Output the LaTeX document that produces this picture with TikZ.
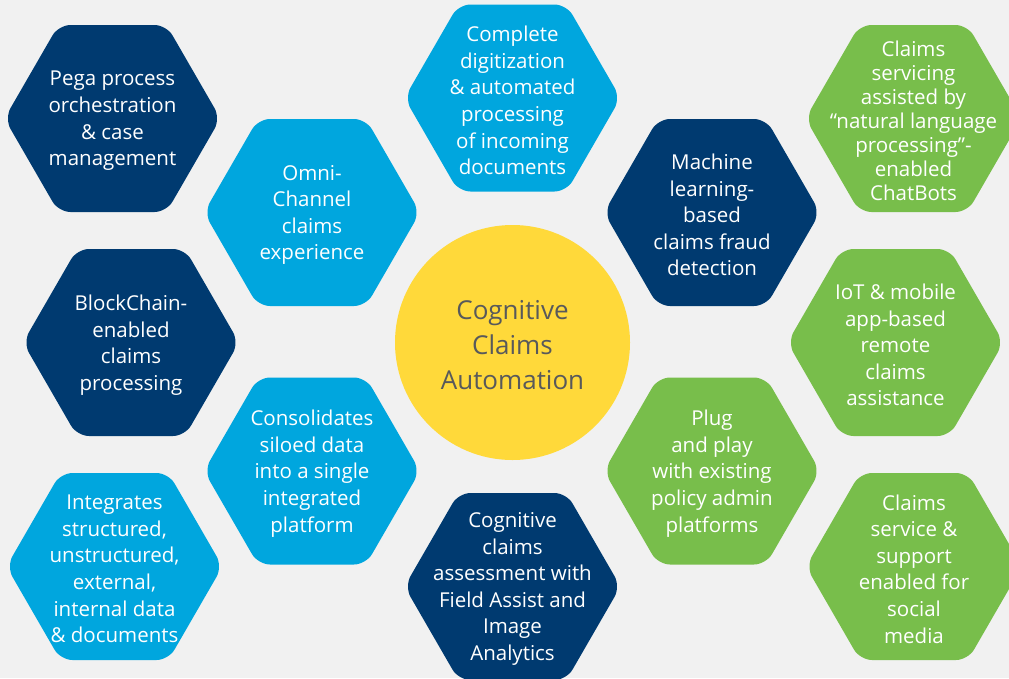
\documentclass[tikz,border=0pt]{standalone}
\usepackage{fontspec}
\setmainfont{Open Sans}
\definecolor{navy}{RGB}{0,58,112}
\definecolor{sky}{RGB}{0,166,222}
\definecolor{leaf}{RGB}{120,190,75}
\definecolor{sun}{RGB}{255,217,58}
\definecolor{bgpaper}{RGB}{241,241,241}
\definecolor{inkgray}{RGB}{88,89,91}
\tikzset{
  hextext/.style={text=white, align=center, font=\fontsize{20.5}{26.6}\selectfont, inner sep=0pt, yshift=-2.5pt},
  hexfill/.style={fill=#1, rounded corners=12pt},
  hubdisc/.style={circle, fill=sun, minimum size=235pt, inner sep=0pt},
  hubtext/.style={text=inkgray, align=center, font=\fontsize{26}{35}\selectfont, inner sep=0pt, yshift=-2.5pt}
}
\newcommand\hexcell[6][]{%
  \fill[hexfill=#5, shift={(#3,#4)}] (0,-93.5) -- (54,-93.5) -- (108,0) -- (54,93.5) -- (-54,93.5) -- (-108,0) -- (-54,-93.5) -- cycle;
  \node[hextext,#1] (#2) at (#3,#4) {#6};}
\begin{document}
\begin{tikzpicture}[x=1pt,y=-1pt]
\fill[bgpaper] (0,0) rectangle (1009,678);
\useasboundingbox (0,0) rectangle (1009,678);
\clip (0,0) rectangle (1009,678);
\hexcell{pega}{112.5}{118.5}{navy}{Pega process\\orchestration\\\& case\\management}
\hexcell{omni}{312}{212.5}{sky}{Omni-\\Channel\\claims\\experience}
\hexcell{complete}{512.5}{98}{sky}{Complete\\digitization\\\& automated\\processing\\of incoming\\documents}
\hexcell{machine}{712}{212.5}{navy}{Machine\\learning-\\based\\claims fraud\\detection}
\hexcell[font=\fontsize{20.5}{24.1}\selectfont]{chatbots}{913.5}{118.5}{leaf}{Claims\\servicing\\assisted by\\“natural language\\processing”-\\enabled\\ChatBots}
\hexcell{block}{131}{342.5}{navy}{BlockChain-\\enabled\\claims\\processing}
\hexcell{iot}{895.5}{342.5}{leaf}{IoT \& mobile\\app-based\\remote\\claims\\assistance}
\hexcell{integ}{114.5}{566.5}{sky}{Integrates\\structured,\\unstructured,\\external,\\internal data\\\& documents}
\hexcell{consol}{312}{471}{sky}{Consolidates\\siloed data\\into a single\\integrated\\platform}
\hexcell{assess}{512.5}{586.5}{navy}{Cognitive\\claims\\assessment with\\Field Assist and\\Image\\Analytics}
\hexcell{plug}{712}{471}{leaf}{Plug\\and play\\with existing\\policy admin\\platforms}
\hexcell{social}{914}{566.5}{leaf}{Claims\\service \&\\support\\enabled for\\social\\media}
\node[hubdisc] (hub) at (512.5,342.5) {};
\node[hubtext] (hubtext) at (hub.center) {Cognitive\\Claims\\Automation};
\end{tikzpicture}
\end{document}
